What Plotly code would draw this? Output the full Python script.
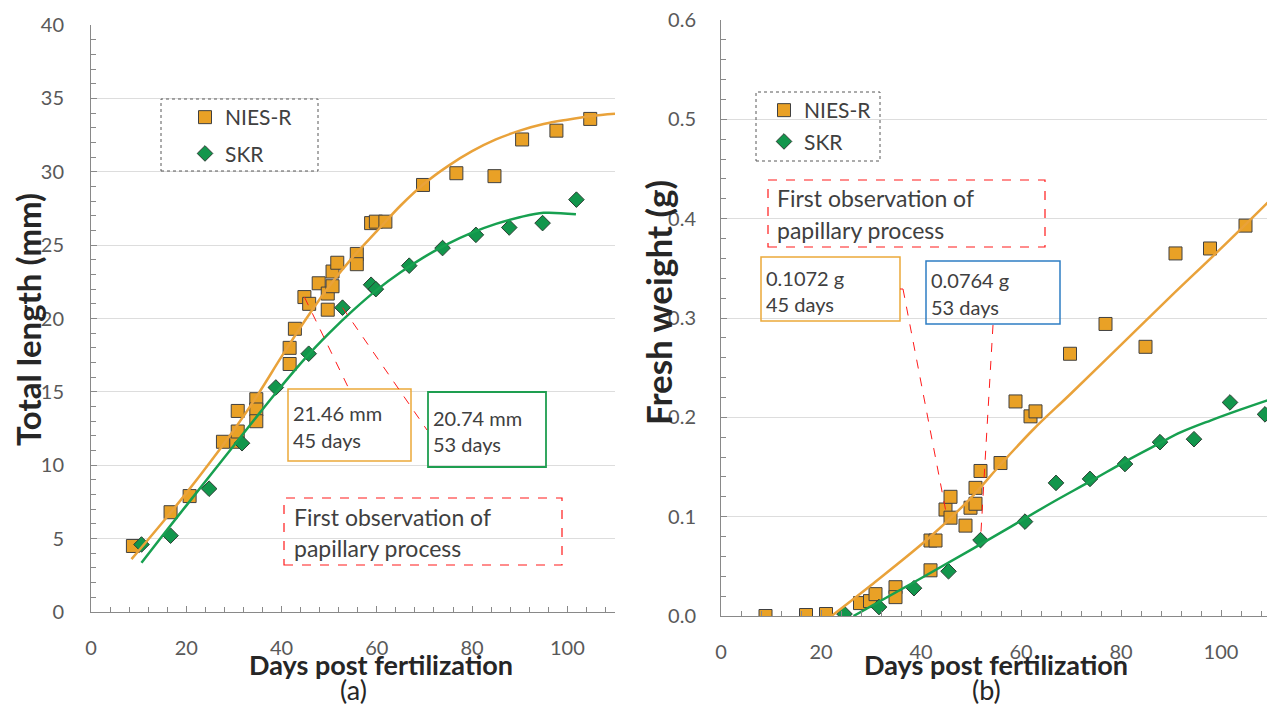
import plotly.graph_objects as go

# ---------------- data ----------------
# Panel (a): total length (mm)
len_nies_days = [8.8, 16.7, 20.7, 27.7, 30.5, 30.8, 30.8, 34.7, 34.7, 34.7, 41.7, 41.7,
                 42.8, 44.8, 45.8, 47.8, 49.7, 49.7, 50.7, 50.7, 51.7, 55.8, 55.8, 58.8,
                 59.8, 61.8, 69.7, 76.7, 84.7, 90.5, 97.7, 104.8]
len_nies_mm = [4.5, 6.8, 7.9, 11.6, 11.6, 13.7, 12.3, 14.5, 13.8, 13.0, 16.9, 18.0,
               19.3, 21.46, 21.0, 22.4, 20.6, 21.7, 22.2, 23.2, 23.8, 24.4, 23.7, 26.5,
               26.6, 26.6, 29.1, 29.9, 29.7, 32.2, 32.8, 33.6]
len_skr_days = [10.6, 16.7, 24.8, 31.7, 38.8, 45.7, 52.8, 58.8, 59.8, 66.8, 73.8, 80.8,
                87.8, 94.8, 101.9]
len_skr_mm = [4.6, 5.2, 8.4, 11.5, 15.3, 17.6, 20.74, 22.3, 22.0, 23.6, 24.8, 25.7,
              26.2, 26.5, 28.1]

# trend lines of panel (a)
trend_len_nies_days = [8.5, 15, 20, 25, 30, 35, 40, 45, 50, 55, 60, 65, 70, 75, 80, 85, 90,
                       95, 100, 105, 110]
trend_len_nies_mm = [3.6, 6.1, 8.1, 10.2, 12.4, 14.8, 17.4, 19.9, 22.2, 24.2, 25.95, 27.7,
                     29.2, 30.4, 31.4, 32.2, 32.8, 33.25, 33.55, 33.8, 33.95]
trend_len_skr_days = [10.6, 15, 20, 25, 30, 35, 40, 45, 50, 55, 60, 65, 70, 75, 80, 85, 90,
                      95, 101.8]
trend_len_skr_mm = [3.36, 5.2, 7.25, 9.3, 11.35, 13.4, 15.4, 17.3, 19.0, 20.55, 21.95, 23.15,
                    24.2, 25.1, 25.85, 26.45, 26.9, 27.2, 27.1]

# Panel (b): fresh weight (g)
wt_nies_days = [8.9, 17.0, 21.0, 27.8, 29.8, 30.9, 34.9, 34.9, 41.9, 41.9, 42.9, 44.9,
                45.9, 45.9, 48.9, 49.9, 50.9, 50.9, 51.9, 55.9, 58.9, 61.9, 62.9, 69.8,
                76.9, 84.9, 90.9, 97.8, 104.9]
wt_nies_g = [0.000, 0.001, 0.002, 0.013, 0.015, 0.022, 0.029, 0.019, 0.046, 0.076, 0.076,
             0.1072, 0.120, 0.099, 0.091, 0.109, 0.113, 0.129, 0.146, 0.154, 0.216, 0.201,
             0.206, 0.264, 0.294, 0.271, 0.365, 0.370, 0.393]
wt_skr_days = [24.7, 31.6, 38.6, 45.5, 51.9, 60.8, 67.0, 73.8, 80.8, 87.8, 94.6, 101.8, 108.8]
wt_skr_g = [0.002, 0.009, 0.028, 0.045, 0.0764, 0.095, 0.134, 0.138, 0.153, 0.175, 0.178,
            0.215, 0.203]

# trend lines of panel (b)
trend_wt_nies_days = [22.1, 30, 41.8, 49.8, 56, 62.5, 70, 80, 90, 100, 109.8]
trend_wt_nies_g = [0.0, 0.031, 0.0795, 0.118, 0.153, 0.188, 0.224, 0.273, 0.322, 0.370, 0.4185]
trend_wt_skr_days = [26.5, 40, 49.8, 58, 65.8, 74, 81, 87, 92, 98, 104, 109.8]
trend_wt_skr_g = [0.0, 0.038, 0.066, 0.090, 0.113, 0.136, 0.156, 0.172, 0.185, 0.197, 0.208, 0.218]

series_names = ["NIES-R", "SKR"]
x_ticks = [0, 20, 40, 60, 80, 100]
len_ticks = [0, 5, 10, 15, 20, 25, 30, 35, 40]
wt_ticks = [0.0, 0.1, 0.2, 0.3, 0.4, 0.5, 0.6]

# ---------------- styling ----------------
# the page body has an 8 px margin, so the figure is 8 px smaller and all page
# positions below are shifted by 8 px
OFF = 8
W, H = 1275 - OFF, 706 - OFF
FONT = "Lato"
ORANGE = "#E9A126"
ORANGE_LINE = "#E9A23A"
GREEN = "#12964C"
GREEN_LINE = "#17A050"
AXIS_COL = "#898989"
TICK_COL = "#595959"
TITLE_COL = "#262626"
TEXT_COL = "#404040"
RED = "#FF1A1A"

R_TOP, R_BOT = 20, 616  # pixel rows of 0.6 and 0.0 on panel (b)


def px(x):
    return (x - OFF) / W


def py(y):
    return 1 - (y - OFF) / H


fig = go.Figure()

mk_sq = dict(symbol="square", size=13, color=ORANGE, line=dict(color="#404040", width=1))
mk_di = dict(symbol="diamond", size=12, color=GREEN, line=dict(color="#2B3F33", width=1))
ln_o = dict(color=ORANGE_LINE, width=2.5, shape="spline", smoothing=1.0)
ln_g = dict(color=GREEN_LINE, width=2.5, shape="spline", smoothing=1.0)

# Panel (a)
fig.add_trace(go.Scatter(x=len_nies_days, y=len_nies_mm, mode="markers", name=series_names[0],
                         marker=mk_sq, xaxis="x", yaxis="y", legend="legend", legendgroup="a"))
fig.add_trace(go.Scatter(x=len_skr_days, y=len_skr_mm, mode="markers", name=series_names[1],
                         marker=mk_di, xaxis="x", yaxis="y", legend="legend", legendgroup="b"))
fig.add_trace(go.Scatter(x=trend_len_nies_days, y=trend_len_nies_mm, mode="lines", line=ln_o,
                         showlegend=False, hoverinfo="skip", xaxis="x", yaxis="y"))
fig.add_trace(go.Scatter(x=trend_len_skr_days, y=trend_len_skr_mm, mode="lines", line=ln_g,
                         showlegend=False, hoverinfo="skip", xaxis="x", yaxis="y"))

# Panel (b)
fig.add_trace(go.Scatter(x=wt_nies_days, y=wt_nies_g, mode="markers", name=series_names[0],
                         marker=mk_sq, xaxis="x2", yaxis="y2", legend="legend2", legendgroup="c"))
fig.add_trace(go.Scatter(x=wt_skr_days, y=wt_skr_g, mode="markers", name=series_names[1],
                         marker=mk_di, xaxis="x2", yaxis="y2", legend="legend2", legendgroup="d"))
fig.add_trace(go.Scatter(x=trend_wt_nies_days, y=trend_wt_nies_g, mode="lines", line=ln_o,
                         showlegend=False, hoverinfo="skip", xaxis="x2", yaxis="y2"))
fig.add_trace(go.Scatter(x=trend_wt_skr_days, y=trend_wt_skr_g, mode="lines", line=ln_g,
                         showlegend=False, hoverinfo="skip", xaxis="x2", yaxis="y2"))

tickfont = dict(family=FONT, size=20, color=TICK_COL)
common_x = dict(range=[0, 110], tickvals=x_ticks, showgrid=False, zeroline=False,
                showline=True, linecolor=AXIS_COL, linewidth=1, ticks="inside", ticklen=6,
                tickcolor=AXIS_COL, tickfont=tickfont, ticklabelstandoff=18, automargin=False,
                ticklabeloverflow="allow",
                minor=dict(dtick=4, ticks="inside", ticklen=5, tickcolor=AXIS_COL, showgrid=False))

fig.update_layout(
    width=W, height=H,
    margin=dict(l=0, r=0, t=0, b=0, autoexpand=False),
    paper_bgcolor="white", plot_bgcolor="white",
    font=dict(family=FONT, color=TEXT_COL),
    xaxis=dict(domain=[px(91), px(615)], anchor="y", **common_x),
    yaxis=dict(domain=[py(612), py(25)], anchor="x", range=[0, 40], tickvals=len_ticks,
               automargin=False, showgrid=True, gridcolor="#DDDDDD", gridwidth=1, zeroline=False,
               showline=True, linecolor=AXIS_COL, ticks="inside", ticklen=6, tickcolor=AXIS_COL,
               tickfont=tickfont, ticklabelstandoff=22, ticklabeloverflow="allow",
               minor=dict(dtick=1, ticks="inside", ticklen=5, tickcolor=AXIS_COL, showgrid=False)),
    xaxis2=dict(domain=[px(721), px(1271)], anchor="y2", **common_x),
    yaxis2=dict(domain=[py(R_BOT), py(R_TOP)], anchor="x2", range=[0, 0.6], tickvals=wt_ticks,
                automargin=False, tickformat=".1f", showgrid=True, gridcolor="#DDDDDD", gridwidth=1,
                zeroline=False, showline=True, linecolor=AXIS_COL, ticks="inside", ticklen=6,
                tickcolor=AXIS_COL, tickfont=tickfont, ticklabelstandoff=20,
                ticklabeloverflow="allow",
                minor=dict(dtick=0.02, ticks="inside", ticklen=5, tickcolor=AXIS_COL, showgrid=False)),
    legend=dict(x=px(185), y=py(97), xanchor="left", yanchor="top", bgcolor="rgba(0,0,0,0)",
                font=dict(family=FONT, size=21, color=TEXT_COL), tracegroupgap=6,
                traceorder="grouped", itemwidth=30),
    legend2=dict(x=px(764), y=py(90), xanchor="left", yanchor="top", bgcolor="rgba(0,0,0,0)",
                 font=dict(family=FONT, size=21, color=TEXT_COL), tracegroupgap=1,
                 traceorder="grouped", itemwidth=30),
    showlegend=True,
)

shapes = []
annots = []


def rect(x0, y0, x1, y1, color, dash="solid", width=1.5):
    shapes.append(dict(type="rect", xref="paper", yref="paper", x0=px(x0), x1=px(x1),
                       y0=py(y1), y1=py(y0), line=dict(color=color, width=width, dash=dash),
                       fillcolor="rgba(0,0,0,0)", layer="above"))


def seg(x0, y0, x1, y1, color=RED, dash="dash", width=1):
    shapes.append(dict(type="line", xref="paper", yref="paper", x0=px(x0), x1=px(x1),
                       y0=py(y0), y1=py(y1), line=dict(color=color, width=width, dash=dash),
                       layer="above"))


def text(x, y, s, size=18, color=TEXT_COL, bold=False, xanchor="left", angle=0):
    annots.append(dict(xref="paper", yref="paper", x=px(x), y=py(y), text=(f"<b>{s}</b>" if bold else s),
                       showarrow=False, xanchor=xanchor, yanchor="middle", textangle=angle,
                       font=dict(family=FONT, size=size, color=color)))


def left_pt(d, v):
    return 91 + d * (524 / 110), 612 - v * (587 / 40)


def right_pt(d, v):
    return 721 + d * 5.0, R_BOT - v * ((R_BOT - R_TOP) / 0.6)


# legend frames (dotted)
rect(161, 99, 318, 171, "#595959", dash="dot", width=1)
rect(756, 92, 880, 161, "#595959", dash="dot", width=1)

BOX_FS = 20
# ----- panel (a) annotations -----
rect(288, 389, 411, 461, "#EBA93A", width=1.5)
text(291, 413, "21.46 mm", size=BOX_FS)
text(291, 440, "45 days", size=BOX_FS)
rect(428, 392, 546, 467, "#1E9E50", width=1.8)
text(431, 418, "20.74 mm", size=BOX_FS)
text(431, 444, "53 days", size=BOX_FS)
x0, y0 = left_pt(len_nies_days[13], len_nies_mm[13])
seg(x0, y0, 349, 389)
x0, y0 = left_pt(len_skr_days[6], len_skr_mm[6])
seg(x0, y0, 427, 430)
rect(284, 498, 562, 565, RED, dash="dash", width=1.2)
text(292, 517, "First observation of", size=23)
text(292, 548, "papillary process", size=23)

# ----- panel (b) annotations -----
rect(768, 180, 1045, 247, RED, dash="dash", width=1.2)
text(775, 198, "First observation of", size=23)
text(775, 230, "papillary process", size=23)
rect(761, 257, 900, 321, "#EBA93A", width=1.5)
text(764, 278, "0.1072 g", size=BOX_FS)
text(764, 304, "45 days", size=BOX_FS)
rect(926, 261, 1060, 324, "#2E7EC4", width=1.5)
text(929, 280, "0.0764 g", size=BOX_FS)
text(929, 307, "53 days", size=BOX_FS)
x1, y1 = right_pt(wt_nies_days[11], wt_nies_g[11])
seg(900, 289, 903, 289)
seg(903, 289, x1, y1)
x1, y1 = right_pt(wt_skr_days[4], wt_skr_g[4])
seg(993, 325, x1, y1)

# ----- axis titles and captions -----
text(28, 320, "Total length (mm)", size=33, color=TITLE_COL, bold=True, xanchor="center", angle=-90)
text(658, 303, "Fresh weight (g)", size=35, color=TITLE_COL, bold=True, xanchor="center", angle=-90)
text(381, 664, "Days post fertilization", size=27, color=TITLE_COL, bold=True, xanchor="center")
text(996, 664, "Days post fertilization", size=27, color=TITLE_COL, bold=True, xanchor="center")
text(353, 689, "(a)", size=27, color=TITLE_COL, xanchor="center")
text(986, 689, "(b)", size=27, color=TITLE_COL, xanchor="center")

fig.update_layout(shapes=shapes, annotations=annots)
fig.write_html("out.html")
